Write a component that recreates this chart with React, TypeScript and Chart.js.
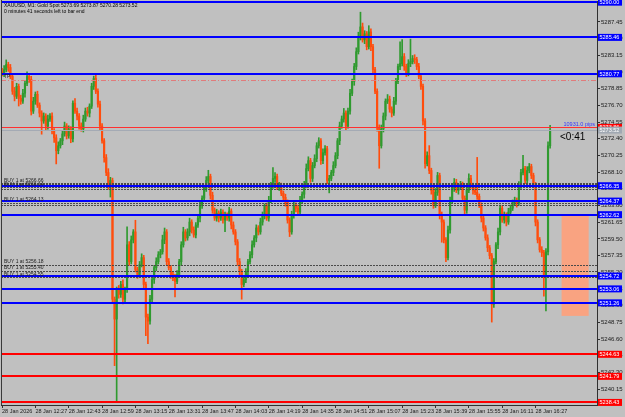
import React, { useEffect, useRef } from 'react';
import { Chart, registerables } from 'chart.js';
Chart.register(...registerables);

// ---- data ----
const timeTicks = ['28 Jan 2026', '28 Jan 12:27', '28 Jan 12:43', '28 Jan 12:59', '28 Jan 13:15', '28 Jan 13:31', '28 Jan 13:47', '28 Jan 14:03', '28 Jan 14:19', '28 Jan 14:35', '28 Jan 14:51', '28 Jan 15:07', '28 Jan 15:23', '28 Jan 15:39', '28 Jan 15:55', '28 Jan 16:11', '28 Jan 16:27'];
const TICK_EVERY = 16;
const SLOTS = 286;

const firstOpen = 5281.07;
const closes = [
  5280.81, 5281.32, 5281.96, 5281.58, 5280.43, 5278.52, 5277.88, 5279.15, 5277.62, 5277.24,
  5278.26, 5279.54, 5280.43, 5280.05, 5275.96, 5277.24, 5278.13, 5276.73, 5275.71, 5274.69,
  5275.33, 5274.05, 5274.94, 5275.33, 5273.41, 5272.52, 5270.86, 5271.50, 5272.14, 5273.03,
  5274.05, 5272.77, 5273.67, 5272.39, 5276.98, 5275.96, 5275.33, 5274.05, 5273.67, 5274.94,
  5275.96, 5275.71, 5276.60, 5279.15, 5280.17, 5278.52, 5276.86, 5274.05, 5272.14, 5269.97,
  5268.05, 5266.39, 5267.03, 5251.72, 5249.17, 5253.00, 5252.36, 5253.63, 5251.72, 5253.00,
  5258.74, 5256.57, 5259.38, 5260.40, 5255.55, 5254.91, 5256.19, 5257.08, 5253.63, 5249.42,
  5248.91, 5251.72, 5254.27, 5255.80, 5256.57, 5257.46, 5257.84, 5259.38, 5260.40, 5256.57,
  5255.80, 5254.91, 5254.53, 5254.02, 5254.91, 5256.57, 5258.74, 5260.40, 5259.63, 5260.40,
  5261.67, 5260.65, 5260.01, 5261.29, 5262.18, 5263.84, 5264.74, 5266.01, 5267.03, 5267.54,
  5265.12, 5263.20, 5262.18, 5262.82, 5262.18, 5262.95, 5261.93, 5262.57, 5262.18, 5263.08,
  5261.29, 5260.40, 5259.12, 5256.57, 5255.29, 5253.63, 5254.27, 5255.29, 5256.57, 5257.46,
  5258.74, 5259.63, 5260.91, 5260.40, 5261.67, 5262.57, 5263.71, 5262.18, 5264.48, 5266.39,
  5267.29, 5267.54, 5266.14, 5266.39, 5265.37, 5264.86, 5264.22, 5261.93, 5260.40, 5262.57,
  5263.84, 5263.46, 5262.95, 5264.48, 5265.25, 5266.52, 5268.56, 5269.58, 5267.29, 5268.95,
  5269.84, 5271.50, 5272.14, 5269.58, 5270.60, 5271.12, 5267.03, 5267.29, 5268.05, 5268.95,
  5270.22, 5272.14, 5274.05, 5274.94, 5275.71, 5274.05, 5275.96, 5278.26, 5279.79, 5281.71,
  5283.62, 5285.53, 5286.81, 5285.15, 5285.92, 5284.26, 5286.17, 5284.26, 5281.32, 5278.52,
  5273.79, 5271.50, 5273.67, 5275.33, 5277.24, 5277.50, 5276.22, 5275.71, 5277.24, 5279.79,
  5281.71, 5282.09, 5282.98, 5281.71, 5280.81, 5282.09, 5282.34, 5282.73, 5282.60, 5281.71,
  5280.43, 5279.15, 5274.69, 5269.20, 5270.22, 5268.31, 5265.76, 5263.84, 5265.50, 5267.67,
  5262.57, 5261.67, 5259.38, 5257.08, 5260.65, 5264.48, 5266.01, 5266.78, 5265.76, 5266.27,
  5266.52, 5264.74, 5263.20, 5265.76, 5267.29, 5266.39, 5265.76, 5265.50, 5264.99, 5263.84,
  5262.18, 5260.91, 5259.63, 5258.36, 5257.33, 5251.08, 5256.57, 5258.74, 5260.40, 5263.46,
  5261.93, 5262.57, 5261.67, 5262.95, 5263.46, 5264.22, 5264.48, 5264.10, 5266.39, 5268.05,
  5268.56, 5267.03, 5268.31, 5268.82, 5267.67, 5266.39, 5261.67, 5259.38, 5258.10, 5257.72,
  5254.91, 5257.84, 5271.50, 5273.52,
];
const wickUp = [
  0.4, 0.5, 0.6, 0.3, 0.4, 0.3, 0.5, 0.4, 0.3, 0.4, 0.5, 0.4, 0.6, 0.3, 0.4, 0.5, 0.3, 0.4, 0.3, 0.3,
  0.4, 0.3, 0.5, 0.3, 0.4, 0.3, 0.4, 0.5, 0.3, 0.4, 0.5, 0.3, 0.4, 0.3, 0.3, 0.6, 0.4, 0.3, 0.4, 0.5,
  0.4, 0.5, 0.3, 0.4, 0.3, 0.6, 0.3, 0.4, 0.3, 0.3, 0.4, 0.5, 0.4, 0.3, 0.3, 0.3, 0.5, 0.4, 0.6, 0.3,
  2.3, 0.4, 0.5, 0.3, 1.5, 0.3, 0.4, 0.5, 0.3, 0.3, 0.4, 0.5, 0.4, 0.3, 0.5, 0.4, 0.3, 0.6, 0.5, 0.3,
  0.4, 0.3, 0.3, 0.4, 0.5, 0.3, 0.4, 0.6, 0.3, 0.4, 0.5, 0.3, 0.4, 0.3, 0.5, 0.4, 0.3, 0.4, 0.5, 0.8,
  0.3, 0.4, 0.3, 0.5, 0.3, 0.4, 0.3, 0.4, 0.3, 0.5, 0.3, 0.4, 0.3, 0.3, 0.4, 0.3, 0.5, 0.4, 0.3, 0.4,
  0.5, 0.3, 0.4, 0.3, 0.5, 0.4, 0.3, 0.4, 0.5, 0.4, 1.4, 0.5, 0.3, 0.4, 0.3, 0.3, 0.4, 0.3, 0.3, 0.5,
  0.4, 0.3, 0.4, 0.5, 0.3, 0.4, 0.6, 0.5, 0.3, 0.4, 0.5, 0.4, 0.4, 0.3, 0.5, 0.4, 0.3, 0.4, 0.3, 0.5,
  0.4, 0.3, 0.5, 0.4, 0.6, 0.3, 0.4, 0.5, 0.3, 0.4, 0.5, 0.6, 1.9, 0.5, 0.4, 0.3, 0.8, 0.4, 0.3, 0.3,
  0.3, 0.4, 0.5, 0.4, 0.3, 0.6, 0.4, 0.3, 0.5, 0.4, 0.3, 2.8, 2.2, 0.4, 0.3, 0.5, 2.9, 0.4, 0.5, 0.3,
  0.4, 0.3, 0.3, 0.3, 0.5, 1.3, 0.3, 0.4, 0.5, 0.4, 0.3, 0.4, 0.3, 0.3, 0.5, 0.4, 0.3, 0.5, 0.4, 0.3,
  0.4, 0.3, 0.3, 0.5, 0.6, 0.4, 0.3, 0.4, 4.5, 0.3, 0.3, 0.4, 0.3, 0.4, 0.3, 0.3, 0.4, 0.3, 0.5, 0.4,
  0.3, 0.4, 0.3, 0.5, 0.4, 0.3, 0.4, 0.3, 0.5, 0.4, 1.7, 0.3, 0.5, 0.4, 0.3, 0.3, 0.4, 0.3, 0.3, 0.4,
  0.3, 0.4, 0.5, 0.6,
];
const wickDn = [
  0.3, 0.4, 0.3, 0.5, 0.3, 0.4, 0.6, 0.3, 1.0, 0.4, 0.3, 0.5, 0.3, 0.4, 0.5, 0.3, 0.4, 0.3, 0.5, 1.7,
  0.3, 0.5, 0.4, 0.3, 0.4, 0.6, 1.7, 0.4, 0.3, 0.5, 0.3, 0.4, 0.3, 0.5, 0.4, 0.3, 0.5, 0.4, 0.3, 0.4,
  0.3, 0.4, 0.5, 0.3, 0.4, 0.3, 0.4, 0.5, 0.3, 0.6, 0.4, 0.5, 1.5, 0.4, 6.0, 10.6, 0.5, 0.4, 0.6, 0.3,
  0.4, 0.5, 0.3, 0.4, 0.3, 0.5, 0.4, 0.3, 0.5, 2.4, 2.9, 0.4, 0.3, 0.5, 0.4, 0.3, 0.4, 0.3, 0.5, 0.4,
  0.3, 0.5, 0.4, 2.0, 0.3, 0.4, 0.5, 0.3, 0.4, 0.3, 0.5, 0.4, 0.3, 0.4, 0.3, 0.5, 0.4, 0.3, 0.4, 0.3,
  0.5, 0.4, 0.3, 0.4, 0.5, 0.3, 0.4, 1.5, 0.3, 0.4, 0.5, 0.3, 0.4, 0.5, 0.4, 1.9, 0.3, 0.4, 0.5, 0.3,
  0.4, 0.3, 0.5, 0.4, 0.3, 0.4, 0.5, 0.3, 0.4, 0.3, 0.4, 0.5, 0.3, 0.4, 0.3, 0.4, 0.5, 0.4, 0.6, 0.3,
  0.4, 0.5, 0.3, 0.4, 0.3, 0.5, 0.4, 0.3, 0.5, 0.4, 0.3, 0.4, 0.3, 0.5, 0.4, 0.3, 0.4, 1.6, 0.3, 0.4,
  0.3, 0.4, 0.5, 0.3, 0.4, 0.5, 0.3, 0.4, 0.3, 0.5, 0.4, 0.3, 0.4, 0.3, 0.5, 0.4, 0.3, 0.5, 0.4, 0.3,
  0.4, 2.9, 0.3, 0.4, 0.5, 0.3, 0.4, 0.5, 0.3, 0.4, 0.3, 0.4, 0.3, 0.5, 0.4, 0.3, 0.4, 0.3, 0.5, 0.4,
  0.3, 0.4, 0.5, 0.6, 0.3, 0.4, 0.5, 0.4, 0.3, 0.4, 0.5, 2.6, 0.4, 0.5, 0.3, 0.4, 0.3, 0.4, 0.3, 0.5,
  0.4, 0.3, 0.5, 0.4, 0.3, 0.4, 0.5, 0.3, 0.4, 0.3, 0.5, 0.4, 0.3, 0.5, 0.4, 2.3, 0.4, 0.3, 0.5, 0.4,
  0.3, 0.4, 0.5, 0.3, 0.4, 0.3, 0.4, 0.5, 0.3, 0.4, 0.3, 0.4, 0.5, 0.3, 0.4, 0.3, 0.5, 0.4, 0.3, 0.5,
  2.8, 4.7, 0.4, 0.3,
];

const yTicks = [5240.15, 5242.30, 5244.45, 5246.60, 5248.75, 5250.90, 5253.05, 5255.20, 5257.35, 5259.50, 5261.65, 5263.80, 5265.95, 5268.10, 5270.25, 5272.40, 5274.55, 5276.70, 5278.85, 5281.00, 5283.15, 5285.30, 5287.45];
const Y_MIN = 5238.1;
const Y_MAX = 5290.15;

const blueLevels = [5290.00, 5285.46, 5280.77, 5266.35, 5264.37, 5262.62, 5254.72, 5253.06, 5251.26];
const redLevels = [5244.63, 5241.79, 5238.43];
const buyLevels = [5266.66, 5266.52, 5266.14, 5265.92, 5264.13, 5263.84, 5256.18, 5255.40, 5254.55];
const buyLabelLevels = [5266.66, 5266.14, 5264.13, 5256.18, 5255.40, 5254.55];
const tpLevel = 5279.97;
const askPrice = 5273.86;
const bidPrice = 5273.52;
const zoneStart = 268.5;
const zoneEnd = 281.5;
const zoneTop = 5262.62;
const zoneBottom = 5249.58;

const headerLine1 = 'XAUUSD, M1: Gold Spot 5273.69 5273.87 5270.28 5273.52';
const headerLine2 = '0 minutes 41 seconds left to bar end';
const pipsText = '10931.0 pips';
const countdownText = '<0:41';

const UP = '#2f9a2f';
const DOWN = '#ff4d0d';
const FONT = '"Liberation Sans", Arial, sans-serif';

export default function App() {
  const ref = useRef<HTMLCanvasElement | null>(null);
  useEffect(() => {
    const canvas = ref.current;
    if (!canvas) return;
    const opens = closes.map((c, i) => (i === 0 ? firstOpen : closes[i - 1]));
    const highs = closes.map((c, i) => Math.max(opens[i], c) + wickUp[i]);
    const lows = closes.map((c, i) => Math.min(opens[i], c) - wickDn[i]);
    const colors = closes.map((c, i) => (c >= opens[i] ? UP : DOWN));
    const wickData = closes.map((c, i) => [lows[i], highs[i]]);
    const bodyData = closes.map((c, i) => [opens[i], c]);
    const labels = Array.from({ length: SLOTS }, (_, i) => String(i));

    const overlay = {
      id: 'overlay',
      beforeDraw(chart: any) {
        const { ctx, width, height } = chart;
        ctx.save();
        ctx.fillStyle = '#c0c0c0';
        ctx.fillRect(0, 0, width, height);
        ctx.restore();
      },
      afterDatasetsDraw(chart: any) {
        const { ctx, chartArea: a, scales } = chart;
        const x = scales.x, y = scales.y;
        ctx.save();
        ctx.beginPath();
        ctx.rect(a.left, a.top, a.right - a.left, a.bottom - a.top);
        ctx.clip();
        const zx1 = x.getPixelForValue(zoneStart), zx2 = x.getPixelForValue(zoneEnd);
        const zy1 = y.getPixelForValue(zoneTop), zy2 = y.getPixelForValue(zoneBottom);
        ctx.fillStyle = '#f9a381';
        ctx.fillRect(zx1, zy1, zx2 - zx1, zy2 - zy1);
        const hline = (p: number, color: string, w: number, dash: number[] = []) => {
          const py = Math.round(y.getPixelForValue(p)) + (w % 2 ? 0.5 : 0);
          ctx.beginPath();
          ctx.setLineDash(dash);
          ctx.strokeStyle = color;
          ctx.lineWidth = w;
          ctx.moveTo(a.left, py);
          ctx.lineTo(a.right, py);
          ctx.stroke();
        };
        hline(bidPrice, '#a4aab4', 1);
        hline(askPrice, '#ff3030', 1);
        hline(tpLevel, '#e07b7b', 1, [5, 2, 1, 2]);
        buyLevels.forEach((p) => hline(p, '#4a4a4a', 1, [2, 1]));
        blueLevels.forEach((p) => hline(p, '#0000ff', 2));
        redLevels.forEach((p) => hline(p, '#ff0000', 2));
        ctx.setLineDash([]);
        ctx.font = '5px ' + FONT;
        ctx.fillStyle = '#222';
        ctx.textAlign = 'left';
        ctx.textBaseline = 'alphabetic';
        buyLabelLevels.forEach((p) => ctx.fillText('BUY 1 at ' + p.toFixed(2), a.left + 3, y.getPixelForValue(p) - 1.5));
        ctx.fillText('TP', a.left + 3, y.getPixelForValue(tpLevel) - 2);
        ctx.restore();
      },
      afterDraw(chart: any) {
        const { ctx, chartArea: a, scales } = chart;
        const y = scales.y;
        ctx.save();
        const box = (p: number, bg: string, fg: string) => {
          const py = y.getPixelForValue(p);
          ctx.fillStyle = bg;
          ctx.fillRect(a.right + 1, py - 3.5, 24, 7);
          ctx.fillStyle = fg;
          ctx.font = '5.5px ' + FONT;
          ctx.textAlign = 'left';
          ctx.textBaseline = 'middle';
          ctx.fillText(p.toFixed(2), a.right + 2.5, py + 0.5);
        };
        blueLevels.forEach((p) => box(p, '#0000ff', '#ffffff'));
        redLevels.forEach((p) => box(p, '#ff0000', '#ffffff'));
        box(askPrice, '#ff0000', '#ffffff');
        box(bidPrice, '#a0a8b2', '#ffffff');
        // left border
        ctx.strokeStyle = '#3a3a3a';
        ctx.lineWidth = 1;
        ctx.beginPath();
        ctx.moveTo(a.left + 0.5, 0);
        ctx.lineTo(a.left + 0.5, a.bottom);
        ctx.stroke();
        // header
        ctx.fillStyle = '#000';
        ctx.font = '5px ' + FONT;
        ctx.textAlign = 'left';
        ctx.textBaseline = 'alphabetic';
        ctx.fillText(headerLine1, 4, 7);
        ctx.fillText(headerLine2, 4, 13);
        // pips text
        ctx.fillStyle = '#3434ff';
        ctx.font = '5.5px ' + FONT;
        ctx.textAlign = 'right';
        ctx.fillText(pipsText, a.right - 2, y.getPixelForValue(askPrice) - 1);
        // countdown
        ctx.fillStyle = '#000';
        ctx.font = '10px ' + FONT;
        ctx.textAlign = 'left';
        ctx.fillText(countdownText, 560, 140);
        ctx.restore();
      },
    };

    const chart = new Chart(canvas, {
      type: 'bar',
      data: {
        labels,
        datasets: [
          { data: wickData as any, backgroundColor: colors, barThickness: 1, grouped: false, order: 2 } as any,
          { data: bodyData as any, backgroundColor: colors, barThickness: 1.5, grouped: false, minBarLength: 1, order: 1 } as any,
        ],
      },
      options: {
        animation: false,
        responsive: false,
        maintainAspectRatio: false,
        layout: { padding: { left: 1, top: 1, right: 0, bottom: 0 } },
        plugins: { legend: { display: false }, tooltip: { enabled: false } },
        scales: {
          x: {
            type: 'category',
            offset: true,
            afterBuildTicks: (s: any) => {
              s.ticks = s.ticks.filter((t: any) => t.value % TICK_EVERY === 0 && t.value / TICK_EVERY < timeTicks.length);
            },
            afterFit: (s: any) => { s.height = 12; s.paddingLeft = 0; s.paddingRight = 0; },
            ticks: {
              autoSkip: false,
              maxRotation: 0,
              minRotation: 0,
              align: 'start',
              padding: 0,
              color: '#1a1a1a',
              font: { size: 5.5, family: FONT },
              callback: (v: any) => timeTicks[Number(v) / TICK_EVERY],
            },
            grid: { display: true, drawOnChartArea: false, drawTicks: true, tickLength: 3, offset: false, color: '#303030' },
            border: { display: true, color: '#303030' },
          },
          y: {
            position: 'right',
            min: Y_MIN,
            max: Y_MAX,
            afterBuildTicks: (s: any) => { s.ticks = yTicks.map((v) => ({ value: v })); },
            afterFit: (s: any) => { s.width = 28; s.paddingTop = 0; s.paddingBottom = 0; },
            ticks: {
              autoSkip: false,
              padding: 1,
              color: '#1a1a1a',
              font: { size: 6, family: FONT },
              callback: (v: any) => Number(v).toFixed(2),
            },
            grid: { drawOnChartArea: false, drawTicks: true, tickLength: 3, color: '#303030' },
            border: { display: true, color: '#303030' },
          },
        },
      } as any,
      plugins: [overlay],
    });
    return () => chart.destroy();
  }, []);

  return (
    <div style={{ position: 'absolute', left: 0, top: 0, width: 625, height: 417, background: '#c0c0c0' }}>
      <canvas ref={ref} width={625} height={417} style={{ display: 'block' }} />
    </div>
  );
}
